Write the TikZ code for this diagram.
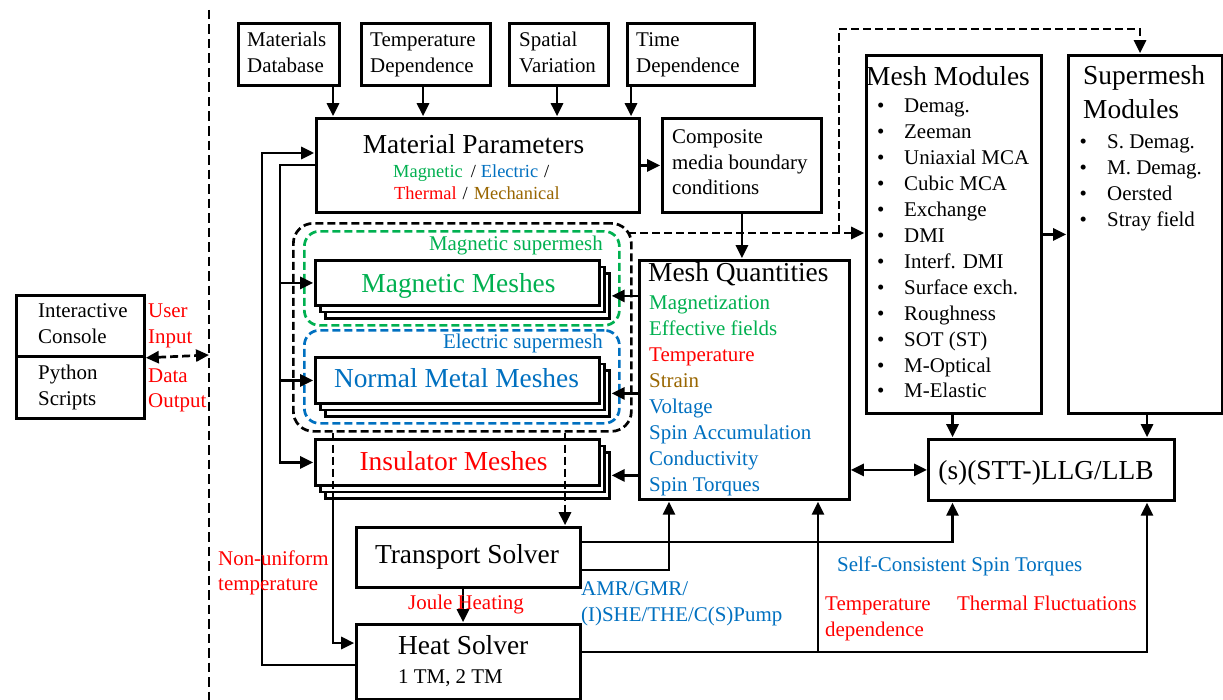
\documentclass[tikz,border=0pt]{standalone}
\usepackage{fontspec}
\setmainfont{Liberation Serif}
\usetikzlibrary{arrows.meta,calc}
\definecolor{grn}{RGB}{0,176,80}
\definecolor{blu}{RGB}{0,112,192}
\definecolor{redc}{RGB}{255,0,0}
\definecolor{brn}{RGB}{153,102,0}
\begin{document}
\begin{tikzpicture}[x=1bp,y=-1bp,
  box/.style={draw, line width=2.8bp, fill=white, inner sep=0pt, rectangle, anchor=north west},
  conn/.style={line width=2.7bp},
  arr/.style={line width=2.7bp, -{Triangle[length=13bp,width=12bp]}, shorten >=0.8bp},
  dsh/.style={dash pattern=on 8bp off 4bp},
  dbox/.style={line width=2.7bp, dash pattern=on 8bp off 4bp, inner sep=0pt, anchor=north west},
  txt/.style={inner sep=0pt, anchor=base west, font=\fontsize{21}{26}\selectfont},
  big/.style={inner sep=0pt, anchor=base west, font=\fontsize{27.5}{32}\selectfont},
  sml/.style={inner sep=0pt, anchor=base west, font=\fontsize{18.5}{22}\selectfont},
]
\useasboundingbox (0,0) rectangle (1223,700);

% ---------- dashed supermesh boxes
\node[dbox, draw=black, rounded corners=20bp, minimum width=338bp, minimum height=208bp] (blk) at (292,222) {};
\node[dbox, draw=grn, rounded corners=15bp, minimum width=315bp, minimum height=94bp] (gsm) at (303,230) {};
\node[dbox, draw=blu, rounded corners=15bp, minimum width=315bp, minimum height=93bp] (bsm) at (303,329) {};

% ---------- boxes
\node[box, minimum width=101bp, minimum height=62bp] (md) at (237,22) {};
\node[box, minimum width=129bp, minimum height=62bp] (td) at (360,22) {};
\node[box, minimum width=99bp, minimum height=62bp] (sv) at (508,22) {};
\node[box, minimum width=127bp, minimum height=62bp] (tid) at (626,22) {};
\node[box, minimum width=323bp, minimum height=94bp] (mp) at (315,117) {};
\node[box, minimum width=159bp, minimum height=94bp] (comp) at (661,117) {};
\node[box, minimum width=210bp, minimum height=239bp] (mq) at (638,259) {};
\node[box, minimum width=175bp, minimum height=358bp] (mm) at (865,54) {};
\node[box, minimum width=154bp, minimum height=358bp] (sm) at (1067,54) {};
\node[box, minimum width=246bp, minimum height=61bp] (llg) at (927,438) {};
\node[box, minimum width=224bp, minimum height=60bp] (ts) at (355,526) {};
\node[box, minimum width=224bp, minimum height=75bp] (hs) at (355,623) {};
\node[box, minimum width=128bp, minimum height=61bp] (ic) at (15,294) {};
\node[box, minimum width=128bp, minimum height=62bp] (py) at (15,355) {};

% mesh stacks
\node[box, minimum width=284bp, minimum height=45bp] (mag3) at (324,272) {};
\node[box, minimum width=284bp, minimum height=45bp] (mag2) at (319,265.5) {};
\node[box, minimum width=284bp, minimum height=45bp] (mag) at (314,259) {};
\node[box, minimum width=284bp, minimum height=46bp] (nm3) at (324,369) {};
\node[box, minimum width=284bp, minimum height=46bp] (nm2) at (319,362.5) {};
\node[box, minimum width=284bp, minimum height=46bp] (nm) at (314,356) {};
\node[box, minimum width=284bp, minimum height=46bp] (ins3) at (324,451) {};
\node[box, minimum width=284bp, minimum height=46bp] (ins2) at (319,444.5) {};
\node[box, minimum width=284bp, minimum height=46bp] (ins) at (314,438) {};

% ---------- helper coordinates
\coordinate (xa1) at (333,0);
\coordinate (xa2) at (423,0);
\coordinate (xa3) at (557,0);
\coordinate (xa4) at (631,0);
\coordinate (o1) at (262,665);
\coordinate (o2) at (262,153);
\coordinate (i1) at (280,165);
\coordinate (xd1) at (333,0);
\coordinate (xd2) at (565,0);
\coordinate (h1) at (0,643);
\coordinate (xj) at (463,0);
\coordinate (y1) at (0,542);
\coordinate (y2) at (0,570);
\coordinate (y3) at (0,652);
\coordinate (xq) at (669,0);
\coordinate (xl1) at (952.5,0);
\coordinate (xl2) at (1147,0);
\coordinate (b1) at (818,652);
\coordinate (q1) at (628,233);
\coordinate (q2) at (839,233);
\coordinate (q3) at (1140,29);
\coordinate (dl) at (209,355);
\coordinate (vt) at (209,10);
\coordinate (vb) at (209,700);

% ---------- connectors
\draw[arr] (md.south -| xa1) -- (mp.north -| xa1);
\draw[arr] (td.south -| xa2) -- (mp.north -| xa2);
\draw[arr] (sv.south -| xa3) -- (mp.north -| xa3);
\draw[arr] (tid.south -| xa4) -- (mp.north -| xa4);
\draw[arr] (mp.east) -- (comp.west);
\draw[arr] (comp.south) -- (comp.south |- mq.north);

\draw[arr] (hs.west |- o1) -- (o1) -- (o2) -- (mp.west |- o2);
\draw[arr] (mp.west |- i1) -- (i1) |- (ins.west);
\draw[arr] (i1 |- mag.west) -- (mag.west);
\draw[arr] (i1 |- nm.west) -- (nm.west);

\draw[arr] (mq.west |- mag3.east) -- (mag3.east);
\draw[arr] (mq.west |- nm3.east) -- (nm3.east);
\draw[arr] (mq.west |- ins3.east) -- (ins3.east);

\draw[conn, dsh] (blk.south -| xd1) -- (ins3.south -| xd1);
\draw[arr] (ins3.south -| xd1) |- (hs.west |- h1);
\draw[arr, dsh] (blk.south -| xd2) -- (ts.north -| xd2);
\draw[arr] (ts.south -| xj) -- (hs.north -| xj);

\draw[arr] (ts.east |- y1) -| (llg.south -| xl1);
\draw[arr] (ts.east |- y2) -| (mq.south -| xq);
\draw[arr] (hs.east |- y3) -| (llg.south -| xl2);
\draw[arr] (b1) -- (mq.south -| b1);

\draw[arr] (mm.east) -- (sm.west);
\draw[arr] (mm.south -| xl1) -- (llg.north -| xl1);
\draw[arr] (sm.south -| xl2) -- (llg.north -| xl2);
\draw[line width=2.7bp, {Triangle[length=13bp,width=12bp]}-{Triangle[length=13bp,width=12bp]}] (mq.east |- llg.west) -- (llg.west);

\draw[arr, dsh] (q1) -- (mm.west |- q1);
\draw[arr, dsh] (q2) |- (q3) -- (sm.north -| q3);

\draw[line width=2.7bp, dsh, {Triangle[length=13bp,width=12bp]}-{Triangle[length=13bp,width=12bp]}] (ic.south east) -- (dl);
\draw[line width=2.7bp, dash pattern=on 9.5bp off 5bp] (vt) -- (vb);

% ---------- texts
\node[txt] (tmd1) at (247,47) {Materials};
\node[txt] (tmd2) at (247,73) {Database};
\node[txt] (ttd1) at (370,47) {Temperature};
\node[txt] (ttd2) at (370,73) {Dependence};
\node[txt] (tsv1) at (519,47) {Spatial};
\node[txt] (tsv2) at (519,73) {Variation};
\node[txt] (tti1) at (636,47) {Time};
\node[txt] (tti2) at (636,73) {Dependence};

\node[big, anchor=base] (tmp) at (473.5,154) {Material Parameters};
\node[sml] (tmp1) at (393,178) {\textcolor{grn}{Magnetic}\hspace{8bp}/\hspace{5bp}\textcolor{blu}{Electric}\hspace{6bp}/};
\node[sml] (tmp2) at (394,200) {\textcolor{redc}{Thermal}\hspace{6bp}/\hspace{6bp}\textcolor{brn}{Mechanical}};

\node[txt] (tc1) at (672,144) {Composite};
\node[txt] (tc2) at (672,170) {media boundary};
\node[txt] (tc3) at (672,195) {conditions};

\node[txt, anchor=base east, text=grn] (tgsm) at (603,250) {Magnetic supermesh};
\node[txt, anchor=base east, text=blu] (tbsm) at (603,348) {Electric supermesh};

\node[big, anchor=base, text=grn] (tmag) at (458.5,292) {Magnetic Meshes};
\node[big, anchor=base, text=blu] (tnm) at (456.5,387) {Normal Metal Meshes};
\node[big, anchor=base, text=redc] (tins) at (453.5,470) {Insulator Meshes};

\node[big] (tmq) at (648,281) {Mesh Quantities};
\foreach \t/\c [count=\k from 0] in {Magnetization/grn, Effective fields/grn, Temperature/redc, Strain/brn, Voltage/blu, Spin Accumulation/blu, Conductivity/blu, Spin Torques/blu}
  \node[txt, text=\c] (tmq\k) at (649,309.5+26*\k) {\t};

\node[big] (tmm) at (866,86) {Mesh Modules};
\foreach \t [count=\k from 0] in {Demag., Zeeman, Uniaxial MCA, Cubic MCA, Exchange, DMI, Interf. DMI, Surface exch., Roughness, SOT (ST), M-Optical, M-Elastic}
  \node[txt] (tmm\k) at (877,113+25.9*\k) {\makebox[27bp][l]{\textbullet}\t};

\node[big] (tsm1) at (1083,85) {Supermesh};
\node[big] (tsm2) at (1083,119) {Modules};
\foreach \t [count=\k from 0] in {S. Demag., M. Demag., Oersted, Stray field}
  \node[txt] (tsm\k x) at (1079.5,149+26*\k) {\makebox[27.5bp][l]{\textbullet}\t};

\node[big, anchor=base] (tllg) at (1046,479) {(s)(STT-)LLG/LLB};
\node[big, anchor=base] (tts) at (467,563) {Transport Solver};
\node[big] (ths) at (398,654) {Heat Solver};
\node[txt] (ths2) at (398,683) {1 TM, 2 TM};

\node[txt] (tic1) at (38,317) {Interactive};
\node[txt] (tic2) at (38,343) {Console};
\node[txt] (tpy1) at (38,379) {Python};
\node[txt] (tpy2) at (38,405) {Scripts};
\node[txt, text=redc] (tui1) at (148,317) {User};
\node[txt, text=redc] (tui2) at (148,343) {Input};
\node[txt, text=redc] (tdo1) at (148,382) {Data};
\node[txt, text=redc] (tdo2) at (148,407) {Output};

\node[txt, text=redc] (tnu1) at (218,565) {Non-uniform};
\node[txt, text=redc] (tnu2) at (218,590) {temperature};
\node[txt, text=redc] (tjh) at (408,609) {Joule Heating};
\node[txt, text=blu] (tam1) at (581,595) {AMR/GMR/};
\node[txt, text=blu] (tam2) at (581,621) {(I)SHE/THE/C(S)Pump};
\node[txt, text=blu] (tsc) at (837,571) {Self-Consistent Spin Torques};
\node[txt, text=redc] (ttp1) at (825,610) {Temperature};
\node[txt, text=redc] (ttp2) at (825,636) {dependence};
\node[txt, text=redc] (ttf) at (957,610) {Thermal Fluctuations};
\end{tikzpicture}
\end{document}
